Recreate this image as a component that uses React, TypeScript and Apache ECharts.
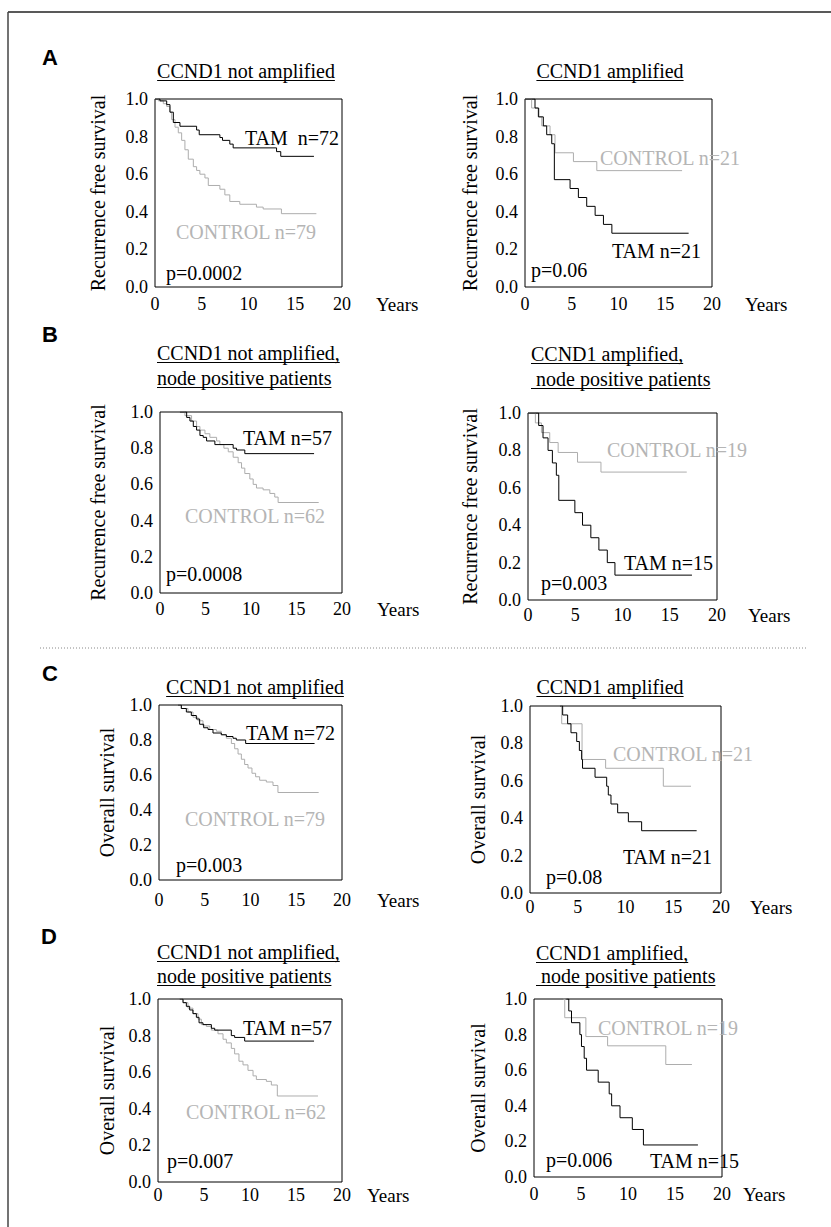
import React, { useEffect, useRef } from "react";
import * as echarts from "echarts";

// ---------- axis ticks ----------
const xTickValues = [0, 5, 10, 15, 20];
const yTickValues = [0, 0.2, 0.4, 0.6, 0.8, 1.0];
const xAxisName = "Years";
const rfsName = "Recurrence free survival";
const osName = "Overall survival";

// ---------- survival curves: [years, survival] ----------
// A: recurrence free survival, CCND1 not amplified
const aNotAmpTam = [[0, 1], [0.53, 0.99], [1.25, 0.97], [1.6, 0.93], [1.96, 0.875], [2.67, 0.855], [4.45, 0.835], [4.73, 0.81], [6.94, 0.795], [7.22, 0.78], [8.0, 0.76], [8.36, 0.74], [13.0, 0.72], [13.45, 0.695], [17.0, 0.695]];
const aNotAmpControl = [[0, 1], [0.36, 0.99], [0.89, 0.975], [1.25, 0.96], [1.6, 0.93], [1.78, 0.89], [2.14, 0.85], [2.49, 0.82], [2.85, 0.78], [3.2, 0.73], [3.56, 0.68], [4.1, 0.64], [4.45, 0.62], [4.8, 0.6], [5.34, 0.58], [5.7, 0.54], [6.94, 0.52], [7.47, 0.49], [8.0, 0.455], [9.07, 0.44], [10.85, 0.425], [11.57, 0.415], [13.52, 0.39], [17.26, 0.39]];
// A: CCND1 amplified
const aAmpTam = [[0, 1], [1.07, 0.952], [1.43, 0.905], [1.96, 0.857], [2.32, 0.81], [2.86, 0.762], [3.14, 0.571], [4.82, 0.524], [5.71, 0.476], [6.6, 0.429], [7.5, 0.381], [8.39, 0.333], [9.29, 0.286], [17.5, 0.286]];
const aAmpControl = [[0, 1], [0.71, 0.952], [1.5, 0.905], [1.79, 0.857], [2.68, 0.81], [3.21, 0.714], [5.18, 0.667], [7.68, 0.619], [16.8, 0.619]];
// B: node positive, not amplified
const bNotAmpTam = [[2.19, 1], [2.93, 0.97], [3.29, 0.95], [3.66, 0.92], [4.02, 0.9], [4.39, 0.87], [4.75, 0.86], [5.12, 0.84], [6.03, 0.82], [8.04, 0.8], [8.41, 0.79], [9.32, 0.77], [16.93, 0.77]];
const bNotAmpControl = [[2.19, 1], [2.74, 0.98], [3.47, 0.95], [4.02, 0.92], [4.39, 0.9], [4.94, 0.88], [5.48, 0.86], [6.22, 0.84], [6.58, 0.82], [7.02, 0.8], [7.5, 0.78], [8.04, 0.75], [8.59, 0.72], [8.96, 0.69], [9.32, 0.66], [9.87, 0.63], [10.24, 0.6], [10.6, 0.58], [11.33, 0.57], [12.07, 0.55], [12.61, 0.53], [12.98, 0.5], [17.44, 0.5]];
// B: node positive, amplified
const bAmpTam = [[0, 1], [1.13, 0.933], [1.59, 0.867], [2.12, 0.8], [2.58, 0.733], [3.0, 0.667], [3.26, 0.533], [4.96, 0.467], [5.77, 0.4], [6.65, 0.333], [7.5, 0.267], [8.39, 0.2], [9.2, 0.133], [17.35, 0.133]];
const bAmpControl = [[0, 1], [0.78, 0.947], [1.42, 0.895], [2.3, 0.842], [3.19, 0.789], [5.24, 0.737], [7.72, 0.684], [16.8, 0.684]];
// C: overall survival, not amplified
const cNotAmpTam = [[2.08, 1], [2.44, 0.98], [2.99, 0.96], [3.53, 0.94], [4.08, 0.92], [4.44, 0.89], [4.88, 0.87], [5.36, 0.86], [5.9, 0.84], [6.81, 0.83], [7.36, 0.82], [8.09, 0.81], [8.45, 0.8], [9.47, 0.78], [17.0, 0.78]];
const cNotAmpControl = [[2.08, 1], [2.44, 0.98], [3.17, 0.96], [3.72, 0.93], [4.26, 0.91], [4.81, 0.88], [5.54, 0.86], [6.27, 0.85], [6.81, 0.83], [7.36, 0.81], [7.91, 0.78], [8.27, 0.75], [8.64, 0.72], [9.0, 0.69], [9.36, 0.66], [9.73, 0.64], [10.16, 0.61], [10.56, 0.59], [11.0, 0.57], [11.73, 0.56], [12.46, 0.54], [13.0, 0.5], [17.45, 0.5]];
// C: amplified
const cAmpTam = [[3.14, 1], [3.42, 0.952], [3.94, 0.905], [4.29, 0.857], [4.89, 0.81], [5.17, 0.762], [5.41, 0.714], [5.5, 0.667], [6.81, 0.619], [8.03, 0.571], [8.2, 0.524], [8.48, 0.476], [9.18, 0.429], [10.3, 0.381], [11.69, 0.333], [17.45, 0.333]];
const cAmpControl = [[3.14, 1], [3.32, 0.905], [5.45, 0.714], [7.92, 0.667], [13.96, 0.571], [16.86, 0.571]];
// D: overall survival, node positive, not amplified
const dNotAmpTam = [[2.36, 1], [2.72, 0.98], [3.08, 0.96], [3.44, 0.94], [3.8, 0.92], [4.17, 0.9], [4.46, 0.87], [4.89, 0.86], [5.8, 0.84], [6.16, 0.83], [7.97, 0.8], [8.33, 0.79], [9.42, 0.77], [16.96, 0.77]];
const dNotAmpControl = [[2.36, 1], [2.72, 0.98], [3.26, 0.95], [3.8, 0.92], [4.35, 0.89], [4.71, 0.86], [5.25, 0.85], [5.8, 0.83], [6.52, 0.81], [7.07, 0.78], [7.43, 0.76], [7.97, 0.73], [8.33, 0.7], [8.8, 0.66], [9.24, 0.64], [9.78, 0.61], [10.33, 0.58], [10.69, 0.56], [11.78, 0.55], [12.32, 0.53], [12.97, 0.47], [17.39, 0.47]];
// D: node positive, amplified
const dAmpTam = [[3.45, 1], [3.7, 0.933], [3.99, 0.867], [4.88, 0.8], [5.05, 0.733], [5.34, 0.667], [5.59, 0.6], [6.83, 0.533], [8.0, 0.467], [8.26, 0.4], [9.15, 0.333], [10.46, 0.267], [11.64, 0.18], [17.44, 0.18]];
const dAmpControl = [[3.1, 1], [3.27, 0.895], [5.52, 0.789], [7.83, 0.737], [14.02, 0.632], [16.8, 0.632]];

// ---------- texts ----------
const panelLetters = ["A", "B", "C", "D"];
const titleNotAmp = ["CCND1 not amplified"];
const titleAmp = ["CCND1 amplified"];
const titleNotAmpNode = ["CCND1 not amplified,", "node positive patients"];
const titleAmpNode = ["CCND1 amplified,", "node positive patients"];

const FONT = "'Liberation Serif', 'Times New Roman', Times, serif";
const SANS = "'Liberation Sans', Arial, Helvetica, sans-serif";
const BLACK = "#000000";
const GRAY_LINE = "#adadad";
const GRAY_TEXT = "#b5b5b5";

type Ann = { text: string; x: number; y: number; gray?: boolean };
type Panel = {
  grid: [number, number, number, number];
  tam: number[][];
  control: number[][];
  title: string[];
  titleMode: "center" | "left";
  titleX: number;
  titleY: number[];
  indent2?: number;
  yName: string;
  yNameGap: number;
  xLabelMargin: number;
  yearsGap: number;
  anns: Ann[];
};

const panels: Panel[] = [
  {
    grid: [155, 99, 187, 188], tam: aNotAmpTam, control: aNotAmpControl,
    title: titleNotAmp, titleMode: "center", titleX: 246, titleY: [71],
    yName: rfsName, yNameGap: 47, xLabelMargin: 8, yearsGap: 34,
    anns: [
      { text: "TAM  n=72", x: 245, y: 138 },
      { text: "CONTROL n=79", x: 176, y: 232, gray: true },
      { text: "p=0.0002", x: 166, y: 273 },
    ],
  },
  {
    grid: [525, 99, 187, 188], tam: aAmpTam, control: aAmpControl,
    title: titleAmp, titleMode: "center", titleX: 610, titleY: [71],
    yName: rfsName, yNameGap: 45, xLabelMargin: 8, yearsGap: 33,
    anns: [
      { text: "CONTROL n=21", x: 600, y: 158, gray: true },
      { text: "TAM n=21", x: 612, y: 251 },
      { text: "p=0.06", x: 531, y: 270 },
    ],
  },
  {
    grid: [160, 412, 182, 181], tam: bNotAmpTam, control: bNotAmpControl,
    title: titleNotAmpNode, titleMode: "left", titleX: 157, titleY: [353, 378], indent2: 0,
    yName: rfsName, yNameGap: 52, xLabelMargin: 7, yearsGap: 35,
    anns: [
      { text: "TAM n=57", x: 243, y: 438 },
      { text: "CONTROL n=62", x: 185, y: 516, gray: true },
      { text: "p=0.0008", x: 166, y: 574 },
    ],
  },
  {
    grid: [528, 413, 189, 187], tam: bAmpTam, control: bAmpControl,
    title: titleAmpNode, titleMode: "left", titleX: 531, titleY: [354, 379], indent2: 5,
    yName: rfsName, yNameGap: 48, xLabelMargin: 6, yearsGap: 31,
    anns: [
      { text: "CONTROL n=19", x: 607, y: 450, gray: true },
      { text: "TAM n=15", x: 624, y: 563 },
      { text: "p=0.003", x: 541, y: 583 },
    ],
  },
  {
    grid: [159, 705, 183, 175], tam: cNotAmpTam, control: cNotAmpControl,
    title: titleNotAmp, titleMode: "center", titleX: 255, titleY: [687],
    yName: osName, yNameGap: 42, xLabelMargin: 11, yearsGap: 35,
    anns: [
      { text: "TAM n=72", x: 246, y: 733 },
      { text: "CONTROL n=79", x: 185, y: 819, gray: true },
      { text: "p=0.003", x: 176, y: 865 },
    ],
  },
  {
    grid: [530, 706, 191, 187], tam: cAmpTam, control: cAmpControl,
    title: titleAmp, titleMode: "center", titleX: 610, titleY: [687],
    yName: osName, yNameGap: 42, xLabelMargin: 5, yearsGap: 29,
    anns: [
      { text: "CONTROL n=21", x: 613, y: 754, gray: true },
      { text: "TAM n=21", x: 623, y: 857 },
      { text: "p=0.08", x: 546, y: 877 },
    ],
  },
  {
    grid: [158, 999, 184, 183], tam: dNotAmpTam, control: dNotAmpControl,
    title: titleNotAmpNode, titleMode: "left", titleX: 157, titleY: [952, 976], indent2: 0,
    yName: osName, yNameGap: 41, xLabelMargin: 4, yearsGap: 25,
    anns: [
      { text: "TAM n=57", x: 243, y: 1028 },
      { text: "CONTROL n=62", x: 186, y: 1112, gray: true },
      { text: "p=0.007", x: 167, y: 1161 },
    ],
  },
  {
    grid: [534, 999, 188, 178], tam: dAmpTam, control: dAmpControl,
    title: titleAmpNode, titleMode: "left", titleX: 536, titleY: [953, 976], indent2: 5,
    yName: osName, yNameGap: 46, xLabelMargin: 8, yearsGap: 21,
    anns: [
      { text: "CONTROL n=19", x: 598, y: 1028, gray: true },
      { text: "TAM n=15", x: 650, y: 1161 },
      { text: "p=0.006", x: 546, y: 1160 },
    ],
  },
];

const letterPos = [
  [42, 57],
  [42, 334],
  [42, 673],
  [41, 936],
];

function measure(text: string, size: number): number {
  const c = document.createElement("canvas");
  const ctx = c.getContext("2d");
  if (!ctx) return text.length * size * 0.5;
  ctx.font = `${size}px 'Liberation Serif'`;
  return ctx.measureText(text).width;
}

function buildOption() {
  const grids: any[] = [];
  const xAxes: any[] = [];
  const yAxes: any[] = [];
  const series: any[] = [];
  const graphics: any[] = [];

  // outer frame
  graphics.push({ type: "line", shape: { x1: 8, y1: 12, x2: 831, y2: 12 }, style: { stroke: "#222", lineWidth: 1.5 }, silent: true });
  graphics.push({ type: "line", shape: { x1: 8, y1: 12, x2: 8, y2: 1227 }, style: { stroke: "#444", lineWidth: 1.5 }, silent: true });
  // dotted separator
  graphics.push({ type: "line", shape: { x1: 40, y1: 648, x2: 808, y2: 648 }, style: { stroke: "#888", lineWidth: 1, lineDash: [1, 2] }, silent: true });

  panelLetters.forEach((l, i) => {
    graphics.push({
      type: "text", x: letterPos[i][0], y: letterPos[i][1],
      style: { text: l, font: `bold 22px ${SANS}`, fill: BLACK, textAlign: "left", textVerticalAlign: "middle" },
      silent: true,
    });
  });

  panels.forEach((p, i) => {
    const [left, top, width, height] = p.grid;
    grids.push({ left, top, width, height, show: true, borderColor: BLACK, borderWidth: 1, backgroundColor: "transparent" });
    xAxes.push({
      gridIndex: i, type: "value", min: xTickValues[0], max: xTickValues[xTickValues.length - 1], interval: xTickValues[1] - xTickValues[0],
      axisLine: { show: false }, axisTick: { show: false }, splitLine: { show: false },
      axisLabel: { fontFamily: FONT, fontSize: 18, color: BLACK, margin: p.xLabelMargin },
      name: xAxisName, nameLocation: "end", nameGap: p.yearsGap,
      nameTextStyle: { fontFamily: FONT, fontSize: 19, color: BLACK, verticalAlign: "top", align: "left", padding: [p.xLabelMargin, 0, 0, 0] },
    });
    yAxes.push({
      gridIndex: i, type: "value", min: yTickValues[0], max: yTickValues[yTickValues.length - 1], interval: 0.2,
      axisLine: { show: false }, axisTick: { show: false }, splitLine: { show: false },
      axisLabel: { fontFamily: FONT, fontSize: 18, color: BLACK, margin: 7, formatter: (v: number) => v.toFixed(1) },
      name: p.yName, nameLocation: "middle", nameGap: p.yNameGap,
      nameTextStyle: { fontFamily: FONT, fontSize: 20, color: BLACK },
    });
    series.push({
      type: "line", name: "CONTROL", xAxisIndex: i, yAxisIndex: i, step: "end", showSymbol: false, symbol: "none",
      data: p.control, lineStyle: { color: GRAY_LINE, width: 1 }, silent: true, z: 2,
    });
    series.push({
      type: "line", name: "TAM", xAxisIndex: i, yAxisIndex: i, step: "end", showSymbol: false, symbol: "none",
      data: p.tam, lineStyle: { color: BLACK, width: 1 }, silent: true, z: 3,
    });

    // titles with underline
    p.title.forEach((t, li) => {
      const w = measure(t, 20);
      const y = p.titleY[li];
      let x0: number;
      let textX: number;
      let uw = w;
      if (p.titleMode === "center") {
        x0 = p.titleX - w / 2;
        textX = x0;
      } else {
        x0 = p.titleX;
        const ind = li > 0 ? p.indent2 || 0 : 0;
        textX = x0 + ind;
        uw = w + ind;
      }
      graphics.push({
        type: "text", x: textX, y,
        style: { text: t, font: `20px ${FONT}`, fill: BLACK, textAlign: "left", textVerticalAlign: "middle" },
        silent: true,
      });
      graphics.push({
        type: "line", shape: { x1: x0, y1: y + 9.5, x2: x0 + uw, y2: y + 9.5 },
        style: { stroke: BLACK, lineWidth: 1.2 }, silent: true,
      });
    });

    p.anns.forEach((a) => {
      graphics.push({
        type: "text", x: a.x, y: a.y, z: 10,
        style: { text: a.text, font: `20px ${FONT}`, fill: a.gray ? GRAY_TEXT : BLACK, textAlign: "left", textVerticalAlign: "middle" },
        silent: true,
      });
    });
  });

  return {
    animation: false,
    backgroundColor: "#ffffff",
    grid: grids,
    xAxis: xAxes,
    yAxis: yAxes,
    series,
    graphic: graphics,
  };
}

export default function App() {
  const ref = useRef<HTMLDivElement>(null);
  useEffect(() => {
    if (!ref.current) return;
    const chart = echarts.init(ref.current, undefined, { renderer: "svg" });
    chart.setOption(buildOption() as any);
    return () => chart.dispose();
  }, []);
  return (
    <div
      ref={ref}
      style={{ position: "absolute", left: 0, top: 0, width: 831, height: 1227, background: "#fff" }}
    />
  );
}
